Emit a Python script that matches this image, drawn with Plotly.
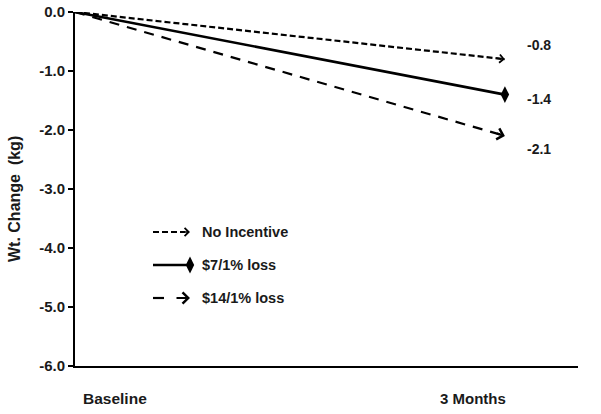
import plotly.graph_objects as go

# ---- data ----
categories = ["Baseline", "3 Months"]
x_pos = [0, 1]
series_names = ["No Incentive", "$7/1% loss", "$14/1% loss"]
no_incentive = [0.0, -0.8]
seven = [0.0, -1.4]
fourteen = [0.0, -2.1]
end_labels = ["-0.8", "-1.4", "-2.1"]
y_ticks = [0, -1, -2, -3, -4, -5, -6]
y_tick_labels = ["0.0", "-1.0", "-2.0", "-3.0", "-4.0", "-5.0", "-6.0"]
y_title = "Wt. Change  (kg)"

FONT = "Liberation Sans, Arial, sans-serif"
TXT = "#1a1a1a"
W, H = 601, 414
ML, MR, MT, MB = 75, 23, 12, 48
PW, PH = W - ML - MR, H - MT - MB
XMAX = 1.17
YMIN, YMAX = -6, 0

series = [
    dict(name=series_names[0], y=no_incentive, dash="6px,3px", width=2.2, head="chev_s", lab=end_labels[0], yshift=14),
    dict(name=series_names[1], y=seven, dash="solid", width=2.6, head="diamond", lab=end_labels[1], yshift=-4),
    dict(name=series_names[2], y=fourteen, dash="10px,8px", width=2.2, head="chev_l", lab=end_labels[2], yshift=-13),
]

fig = go.Figure()
annotations = []


def px_dir(x0, y0, x1, y1):
    dx = (x1 - x0) / XMAX * PW
    dy = (y0 - y1) / (YMAX - YMIN) * PH
    d = (dx ** 2 + dy ** 2) ** 0.5
    return dx / d, dy / d


def arrow_head(x, y, xref, yref, ux, uy, aw, length=9):
    return dict(x=x, y=y, xref=xref, yref=yref, text="", font=dict(size=1), borderpad=0,
                showarrow=True, arrowhead=4, arrowsize=1.0, arrowwidth=aw, arrowcolor="black",
                ax=-length * ux, ay=-length * uy, axref="pixel", ayref="pixel", standoff=0)


for s in series:
    fig.add_trace(go.Scatter(
        x=x_pos, y=s["y"], mode="lines", name=s["name"],
        line=dict(color="black", width=s["width"], dash=s["dash"]),
        showlegend=False, hoverinfo="skip"))
    ux, uy = px_dir(x_pos[0], s["y"][0], x_pos[1], s["y"][1])
    if s["head"] == "diamond":
        fig.add_trace(go.Scatter(
            x=[x_pos[1]], y=[s["y"][1]], mode="markers", showlegend=False,
            marker=dict(symbol="diamond-tall", size=12, color="black"), hoverinfo="skip"))
    else:
        aw = 1.6 if s["head"] == "chev_s" else 2.2
        annotations.append(arrow_head(x_pos[1], s["y"][1], "x", "y", ux, uy, aw))
    annotations.append(dict(
        x=x_pos[1], y=s["y"][1], xref="x", yref="y", text="<b>%s</b>" % s["lab"],
        showarrow=False, xanchor="left", xshift=20, yshift=s["yshift"],
        font=dict(family=FONT, size=14, color=TXT)))

# category labels
annotations.append(dict(x=x_pos[0], y=0, xref="x", yref="paper", yanchor="top", xanchor="left",
                        xshift=6, yshift=-22, text="<b>%s</b>" % categories[0], showarrow=False,
                        font=dict(family=FONT, size=15.5, color=TXT)))
annotations.append(dict(x=x_pos[1], y=0, xref="x", yref="paper", yanchor="top", xanchor="right",
                        xshift=3, yshift=-22, text="<b>%s</b>" % categories[1], showarrow=False,
                        font=dict(family=FONT, size=15, color=TXT)))


# ---- manual legend (on an overlay axis spanning the plot area) ----
def px2x(px):
    return (px - ML) / PW


def py2y(py):
    return 1 - (py - MT) / PH


# y-axis title
annotations.append(dict(x=px2x(14), y=py2y(199), xref="paper", yref="paper", textangle=-90,
                        xanchor="center", yanchor="middle",
                        text="<b>%s</b>" % y_title, showarrow=False,
                        font=dict(family=FONT, size=16, color=TXT)))

leg_rows = [232, 265, 298]
lx0, lx1 = px2x(153), px2x(190)
for s, row in zip(series, leg_rows):
    yy = py2y(row)
    if s["head"] == "chev_l":
        xs = [lx0, px2x(164)]
    elif s["head"] == "chev_s":
        xs = [lx0, px2x(185)]
    else:
        xs = [lx0, px2x(188)]
    fig.add_trace(go.Scatter(
        x=xs, y=[yy, yy], xaxis="x2", yaxis="y2", mode="lines", showlegend=False,
        line=dict(color="black", width=s["width"], dash=s["dash"] if s["head"] != "chev_l" else "solid"),
        hoverinfo="skip"))
    if s["head"] == "diamond":
        fig.add_trace(go.Scatter(
            x=[lx1], y=[yy], xaxis="x2", yaxis="y2", mode="markers", showlegend=False,
            marker=dict(symbol="diamond-tall", size=12, color="black"), hoverinfo="skip"))
    else:
        aw = 1.6 if s["head"] == "chev_s" else 2.2
        annotations.append(arrow_head(lx1, yy, "x2", "y2", 1, 0, aw,
                                      length=14 if s["head"] == "chev_l" else 8))
    annotations.append(dict(
        x=px2x(200), y=yy, xref="x2", yref="y2", text="<b>%s</b>" % s["name"], showarrow=False,
        xanchor="left", xshift=0, font=dict(family=FONT, size=14.5, color=TXT)))

fig.update_layout(
    template="none",
    width=W, height=H,
    margin=dict(l=ML, r=MR, t=MT, b=MB, pad=0, autoexpand=False),
    paper_bgcolor="white", plot_bgcolor="white",
    showlegend=False,
    annotations=annotations,
    xaxis=dict(range=[0, XMAX], showgrid=False, zeroline=False, showline=True, automargin=False,
               linecolor="black", linewidth=2, showticklabels=False, ticks=""),
    yaxis=dict(range=[YMIN, YMAX], tickvals=y_ticks, ticktext=y_tick_labels, showgrid=False,
               zeroline=False, showline=True, linecolor="black", linewidth=2, automargin=False,
               ticks="outside", ticklen=5, tickwidth=1.5, tickcolor="black",
               ticklabeloverflow="allow",
               tickfont=dict(family=FONT, size=15, color=TXT, weight="bold")),
    xaxis2=dict(range=[0, 1], overlaying="x", visible=False, domain=[0, 1]),
    yaxis2=dict(range=[0, 1], overlaying="y", visible=False),
)

fig.write_html("out.html", config={"displayModeBar": False},
               post_script="document.body.style.margin='0px';")
